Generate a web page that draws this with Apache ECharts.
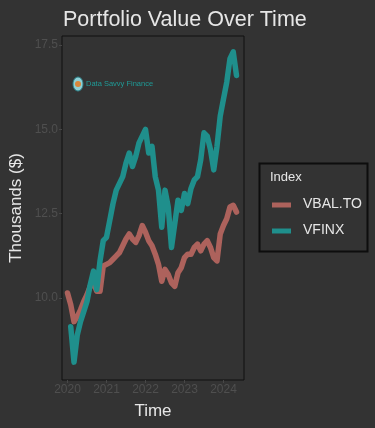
<!DOCTYPE html>
<html><head><meta charset="utf-8">
<script src="https://cdn.jsdelivr.net/npm/echarts@6/dist/echarts.min.js"></script>
<style>html,body{margin:0;padding:0;background:#333333;}#c{width:375px;height:428px;}</style>
</head><body><div id="c"></div>
<script>
// Monthly observation dates (year, month index 0-11)
const startYear = 2020;
const vbalMonths = Array.from({length: 53}, (_, i) => i);       // Jan 2020 .. May 2024
const vfinxMonths = Array.from({length: 52}, (_, i) => i + 1);  // Feb 2020 .. May 2024

// Portfolio values, thousands of $
const vbalValues = [10.15, 9.8, 9.3, 9.45, 9.65, 9.9, 10.1, 10.35, 10.45, 10.2,
  10.2, 10.95, 11.0, 11.05, 11.15, 11.25, 11.35, 11.55, 11.75, 11.9,
  11.75, 11.65, 11.85, 12.15, 11.95, 11.7, 11.55, 11.3, 11.0, 10.5,
  10.85, 10.7, 10.45, 10.35, 10.75, 10.9, 11.2, 11.3, 11.3, 11.5,
  11.6, 11.4, 11.6, 11.7, 11.5, 11.2, 11.1, 11.9, 12.15, 12.35,
  12.7, 12.75, 12.55];
const vfinxValues = [9.15, 8.1, 8.9, 9.3, 9.6, 9.9, 10.4, 10.8, 10.25, 11.1,
  11.7, 11.8, 12.3, 12.8, 13.2, 13.4, 13.6, 14.0, 14.3, 13.9,
  14.2, 14.6, 14.8, 15.0, 14.3, 14.5, 13.6, 13.2, 12.1, 13.2,
  12.7, 11.5, 12.2, 12.9, 12.6, 13.1, 12.8, 13.25, 13.5, 13.6,
  14.1, 14.9, 14.8, 14.4, 13.8, 14.5, 15.4, 15.9, 16.4, 17.1,
  17.3, 16.6];

const seriesNames = ['VBAL.TO', 'VFINX'];
const seriesColors = ['#ad625c', '#1f8f8c'];
const xTicks = [2020, 2021, 2022, 2023, 2024];
const yTicks = [10, 12.5, 15, 17.5];

const toPts = (months, vals) => months.map((m, i) => [startYear + m / 12, vals[i]]);

const chart = echarts.init(document.getElementById('c'), null, {renderer: 'canvas'});
const font = '"Liberation Sans", Arial, sans-serif';
chart.setOption({
  backgroundColor: '#333333',
  animation: false,
  title: {
    text: 'Portfolio Value Over Time', left: 58, top: 4,
    textStyle: {color: '#e6e6e6', fontSize: 21.5, fontWeight: 'normal', fontFamily: font}
  },
  grid: {left: 62, right: 131, top: 36, bottom: 48, show: true,
    borderColor: '#111111', borderWidth: 1, backgroundColor: '#333333'},
  xAxis: {
    type: 'value', min: 2019.859, max: 2024.526,
    name: 'Time', nameLocation: 'middle', nameGap: 23,
    nameTextStyle: {color: '#e6e6e6', fontSize: 17, fontFamily: font},
    axisLine: {show: false},
    splitLine: {show: false},
    axisTick: {show: true, length: 3, lineStyle: {color: '#474747'}, customValues: xTicks},
    axisLabel: {color: '#4f4f4f', fontSize: 12, fontFamily: font, margin: 4,
      customValues: xTicks, formatter: v => String(Math.round(v))}
  },
  yAxis: {
    type: 'value', min: 7.57, max: 17.77,
    name: 'Thousands ($)', nameLocation: 'middle', nameGap: 37, nameRotate: 90,
    nameTextStyle: {color: '#e6e6e6', fontSize: 17, fontFamily: font},
    axisLine: {show: false},
    splitLine: {show: false},
    axisTick: {show: true, length: 3, lineStyle: {color: '#474747'}, customValues: yTicks},
    axisLabel: {color: '#4f4f4f', fontSize: 12, fontFamily: font, margin: 4,
      customValues: yTicks, formatter: v => v.toFixed(1)}
  },
  legend: {show: false},
  series: [
    {name: seriesNames[0], type: 'line', data: toPts(vbalMonths, vbalValues), showSymbol: false,
      lineStyle: {color: seriesColors[0], width: 5.5, join: 'round', cap: 'round'}, itemStyle: {color: seriesColors[0]}},
    {name: seriesNames[1], type: 'line', data: toPts(vfinxMonths, vfinxValues), showSymbol: false,
      lineStyle: {color: seriesColors[1], width: 5.5, join: 'round', cap: 'round'}, itemStyle: {color: seriesColors[1]}}
  ],
  graphic: [
    {type: 'rect', shape: {x: 259.5, y: 163.5, width: 108, height: 88},
      style: {fill: 'none', stroke: '#0d0d0d', lineWidth: 2}},
    {type: 'text', x: 270, y: 171, style: {text: 'Index', fill: '#e6e6e6', fontSize: 13, fontFamily: font}},
    {type: 'line', shape: {x1: 272, y1: 205, x2: 291, y2: 205}, style: {stroke: seriesColors[0], lineWidth: 5}},
    {type: 'text', x: 303, y: 197, style: {text: seriesNames[0], fill: '#e6e6e6', fontSize: 14, fontFamily: font}},
    {type: 'line', shape: {x1: 272, y1: 231, x2: 291, y2: 231}, style: {stroke: seriesColors[1], lineWidth: 5}},
    {type: 'text', x: 303, y: 223, style: {text: seriesNames[1], fill: '#e6e6e6', fontSize: 14, fontFamily: font}},
    {type: 'ellipse', shape: {cx: 78, cy: 84, rx: 5, ry: 7}, style: {fill: '#8fd0d6', stroke: '#2a7f86', lineWidth: 1}},
    {type: 'circle', shape: {cx: 78, cy: 84, r: 3}, style: {fill: '#d9863b'}},
    {type: 'text', x: 86, y: 80, style: {text: 'Data Savvy Finance', fill: '#1f9a96', fontSize: 7.5, fontFamily: font}}
  ]
});
</script></body></html>
